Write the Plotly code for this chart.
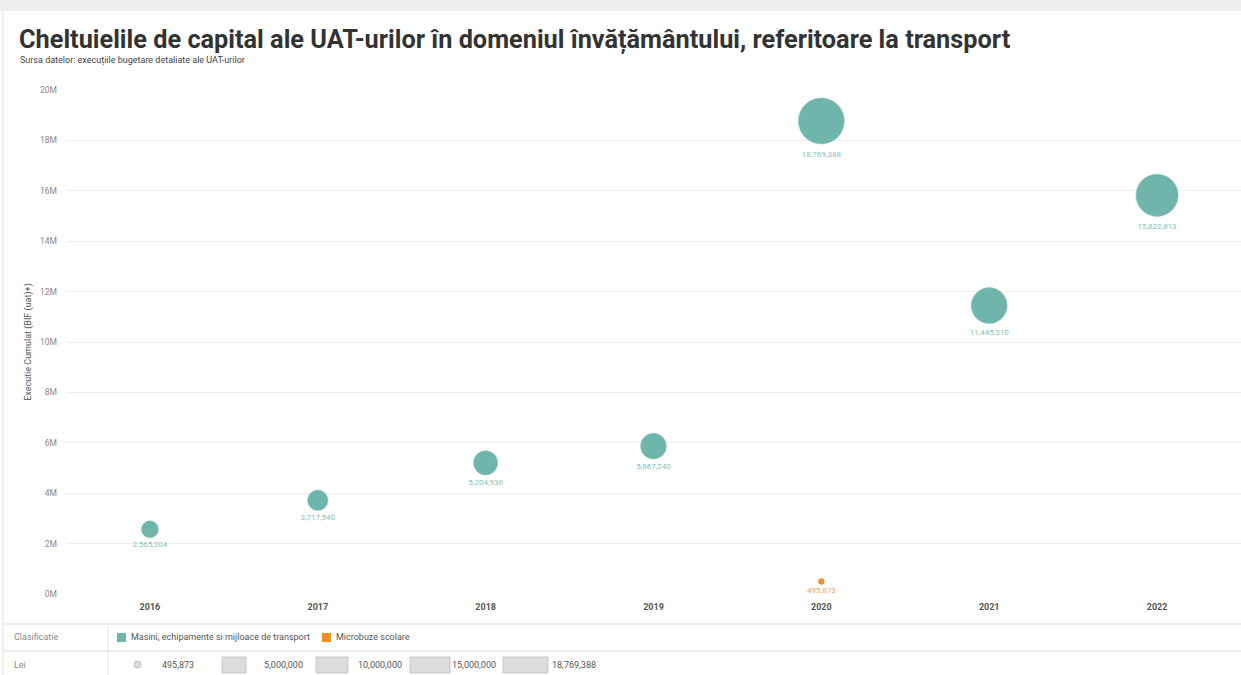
import numpy as np
import plotly.graph_objects as go

# Capital spending on transport in education, by year (lei)
years = ["2016", "2017", "2018", "2019", "2020", "2021", "2022"]
masini = [2565204, 3717540, 5204936, 5867240, 18769388, 11445310, 15822813]
micro_years = ["2020"]
micro = [495873]

y_ticks = [0, 2e6, 4e6, 6e6, 8e6, 10e6, 12e6, 14e6, 16e6, 18e6, 20e6]
y_tick_text = ["0M", "2M", "4M", "6M", "8M", "10M", "12M", "14M", "16M", "18M", "20M"]

size_legend_vals = [495873, 5000000, 10000000, 15000000, 18769388]

TEAL = "#6fb5ac"
ORANGE = "#f28e2b"
MAX_D = 46
vmax = max(masini + micro)


def diam(vals):
    return [MAX_D * np.sqrt(v / vmax) for v in vals]


def fmt(v):
    return f"{v:,}"


fig = go.Figure()

fig.add_trace(go.Scatter(
    x=years, y=masini, mode="markers+text",
    marker=dict(size=diam(masini), color=TEAL, opacity=1, line=dict(width=0.6, color="#8fc6bf")),
    text=[fmt(v) for v in masini], textposition="bottom center",
    textfont=dict(size=8, color="#86c0b9", family="Roboto"),
    name="Masini, echipamente si mijloace de transport", showlegend=False,
))
fig.add_trace(go.Scatter(
    x=micro_years, y=micro, mode="markers+text",
    marker=dict(size=diam(micro), color=ORANGE, opacity=1),
    text=[fmt(v) for v in micro], textposition="bottom center",
    textfont=dict(size=8, color="#f2a65a", family="Roboto"),
    name="Microbuze scolare", showlegend=False,
))

W, H = 1241, 675
L, R, T, B = 66, 0, 90, 81


def px(x):
    return (x - L) / (W - L - R)


def py(y):
    return (H - B - y) / (H - T - B)


shapes = []
ann = []

# page frame: top band and separators of the legend strip
shapes.append(dict(type="rect", xref="paper", yref="paper", x0=px(0), x1=px(W), y0=py(0), y1=py(11),
                   fillcolor="#efefef", line=dict(width=0), layer="below"))
shapes.append(dict(type="line", xref="paper", yref="paper", x0=px(3), x1=px(3), y0=py(11), y1=py(H),
                   line=dict(color="#e2e2e2", width=1)))
for yy in (624, 651):
    shapes.append(dict(type="line", xref="paper", yref="paper", x0=px(3), x1=px(W), y0=py(yy), y1=py(yy),
                       line=dict(color="#dcdcdc", width=1)))
shapes.append(dict(type="line", xref="paper", yref="paper", x0=px(108), x1=px(108), y0=py(626), y1=py(H),
                   line=dict(color="#e4e4e4", width=1)))

# colour legend
ann.append(dict(text="Clasificatie", x=px(12), y=py(637), xanchor="left", yanchor="middle",
                font=dict(size=9, color="#8a8a8a")))
for x0, col, label in ((117, TEAL, "Masini, echipamente si mijloace de transport"),
                       (322, ORANGE, "Microbuze scolare")):
    shapes.append(dict(type="rect", xref="paper", yref="paper", x0=px(x0), x1=px(x0 + 9),
                       y0=py(642), y1=py(633), fillcolor=col, line=dict(width=0)))
    ann.append(dict(text=label, x=px(x0 + 12), y=py(637), xanchor="left", yanchor="middle",
                    font=dict(size=9, color="#555555")))

# size legend
ann.append(dict(text="Lei", x=px(12), y=py(665), xanchor="left", yanchor="middle",
                font=dict(size=9, color="#8a8a8a")))
shapes.append(dict(type="circle", xref="paper", yref="paper", x0=px(134), x1=px(141),
                   y0=py(668), y1=py(661), fillcolor="#dddddd", line=dict(color="#bdbdbd", width=1)))
label_x = [160, 262, 356, 450, 550]
pill_x = [(222, 246), (316, 348), (410, 450), (503, 548)]
for (a, b) in pill_x:
    shapes.append(dict(type="rect", xref="paper", yref="paper", x0=px(a), x1=px(b),
                       y0=py(673), y1=py(657), fillcolor="#dcdcdc",
                       line=dict(color="#c8c8c8", width=1)))
for xv, v in zip(label_x, size_legend_vals):
    ann.append(dict(text=fmt(v), x=px(xv), y=py(665), xanchor="left", yanchor="middle",
                    font=dict(size=9, color="#555555")))

# title and source
ann.append(dict(text="<b>Cheltuielile de capital ale UAT-urilor în domeniul învățământului, referitoare la transport</b>",
                x=px(17), y=py(40), xanchor="left", yanchor="middle",
                font=dict(size=25.3, color="#333333", family="Liberation Sans Narrow, Roboto, sans-serif")))
ann.append(dict(text="Sursa datelor: execuțiile bugetare detaliate ale UAT-urilor",
                x=px(18), y=py(61), xanchor="left", yanchor="middle",
                font=dict(size=9, color="#444444", family="Liberation Sans Narrow, Roboto, sans-serif")))

for a in ann:
    a.update(xref="paper", yref="paper", showarrow=False)

fig.update_layout(
    width=W, height=H,
    margin=dict(l=L, r=R, t=T, b=B),
    paper_bgcolor="white", plot_bgcolor="white",
    font=dict(family="Roboto, sans-serif", color="#666666"),
    shapes=shapes, annotations=ann,
    xaxis=dict(type="category", categoryorder="array", categoryarray=years,
               range=[-0.5, 6.5], showgrid=False, zeroline=False, showline=False,
               ticks="", tickfont=dict(size=9, color="#555555", family="Roboto"),
               ticklabelstandoff=6, tickprefix="<b>", ticksuffix="</b>"),
    yaxis=dict(range=[0, 20e6], tickvals=y_ticks, ticktext=y_tick_text,
               showgrid=True, gridcolor="#eeeeee", gridwidth=1, zeroline=False,
               showline=False, ticks="", tickfont=dict(size=8.5, color="#888888"),
               ticklabelstandoff=8,
               title=dict(text="Executie Cumulat (BIF (uat)+)", font=dict(size=9, color="#555555"),
                          standoff=6)),
)

fig.write_html("out.html")
